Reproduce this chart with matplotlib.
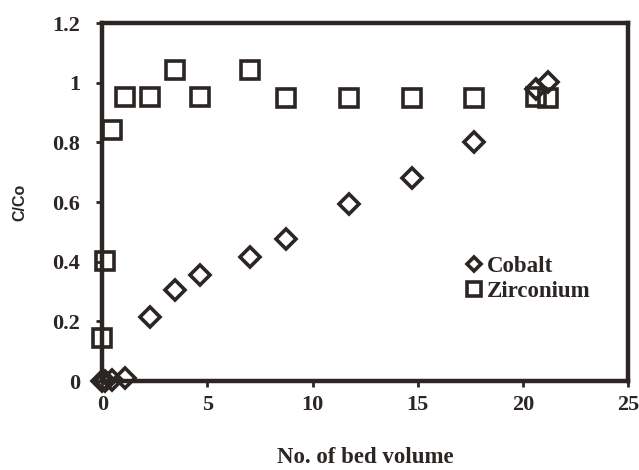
import matplotlib
matplotlib.use("Agg")
import matplotlib.pyplot as plt

bed_volume = [0.0, 0.13, 0.47, 1.06, 2.27, 3.45, 4.65, 7.02, 8.75, 11.75, 14.73, 17.68, 20.62, 21.2]
cobalt = [0.0, 0.0, 0.005, 0.01, 0.215, 0.305, 0.356, 0.415, 0.477, 0.594, 0.682, 0.802, 0.98, 1.004]
zirconium = [0.146, 0.404, 0.843, 0.953, 0.953, 1.043, 0.953, 1.043, 0.95, 0.95, 0.948, 0.948, 0.953, 0.948]

xticks = [0, 5, 10, 15, 20, 25]
yticks = [0, 0.2, 0.4, 0.6, 0.8, 1.0, 1.2]
yticklabels = ["0", "0.2", "0.4", "0.6", "0.8", "1", "1.2"]

ink = "#2b2523"
serif = "Liberation Serif"

fig = plt.figure(figsize=(6.39, 4.70), dpi=100)
ax = fig.add_axes([0.16, 0.189, 0.823, 0.762])

ax.plot(bed_volume, cobalt, linestyle="none", marker="D", markersize=10,
        markerfacecolor="none", markeredgecolor=ink, markeredgewidth=2.6,
        label="Cobalt", clip_on=False, zorder=3)
ax.plot(bed_volume, zirconium, linestyle="none", marker="s", markersize=13,
        markerfacecolor="none", markeredgecolor=ink, markeredgewidth=2.6,
        label="Zirconium", clip_on=False, zorder=2)

ax.set_xlim(0, 25)
ax.set_ylim(0, 1.2)
ax.set_xticks(xticks)
ax.set_xticklabels([str(t) for t in xticks])
ax.set_yticks(yticks)
ax.set_yticklabels(yticklabels)

for s in ax.spines.values():
    s.set_linewidth(3.2)
    s.set_color(ink)
    s.set_zorder(2.5)

ax.tick_params(axis="both", direction="out", length=4, width=2, color=ink,
               labelsize=16, labelcolor=ink)
ax.tick_params(axis="x", pad=6)
ax.tick_params(axis="y", pad=12)
for lab in ax.get_xticklabels() + ax.get_yticklabels():
    lab.set_fontfamily(serif)
    lab.set_fontweight("bold")

ax.set_xlabel("No. of bed volume", fontsize=16.5, fontweight="bold",
              fontfamily=serif, color=ink, labelpad=23)
ax.set_ylabel("C/Co", fontsize=11.5, fontweight="bold", fontfamily="Liberation Sans",
              color=ink, labelpad=18)

leg = ax.legend(loc="upper left", bbox_to_anchor=(0.695, 0.35), frameon=False,
                borderpad=0, borderaxespad=0,
                handlelength=0.55, handletextpad=0.3, labelspacing=0.2,
                prop={"family": serif, "weight": "bold", "size": 16.5},
                markerscale=0.75)
for t in leg.get_texts():
    t.set_color(ink)

fig.savefig("out.png", dpi=100)
